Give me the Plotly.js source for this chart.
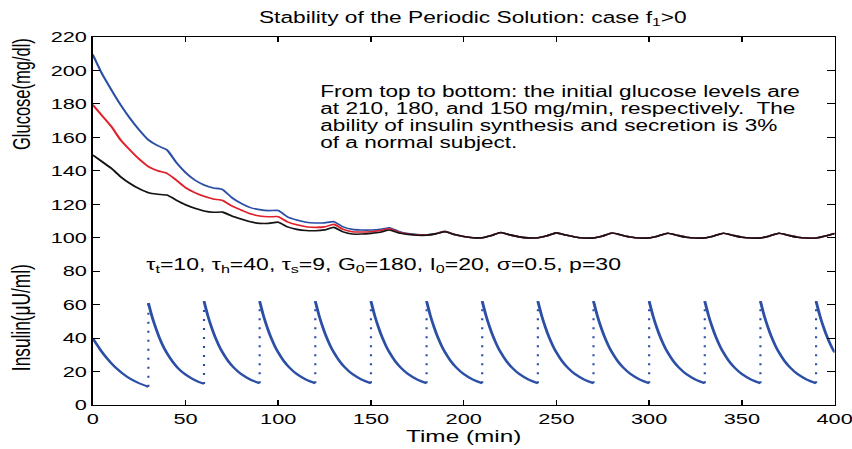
<!DOCTYPE html>
<html><head><meta charset="utf-8">
<script src="https://cdn.plot.ly/plotly-3.0.1.min.js"></script>
<style>
html,body{margin:0;padding:0;background:#fff;overflow:hidden;width:852px;height:449px}
#wrap{width:852px;height:449px;overflow:hidden}
#chart{width:588px;height:449px;transform:scaleX(1.44898);transform-origin:0 0}
</style></head><body><div id="wrap"><div id="chart"></div></div>
<script>
// ---- data ----
const timeGlucose = [0,5,10,15,20,25,30,35,40,45,50,55,60,65,70,75,80,85,90,95,100,105,110,115,120,125,130,135,140,145,150,155,160,165,170,175,180,185,190,195,200,205,210,215,220,225,230,235,240,245,250,255,260,265,270,275,280,285,290,295,300,305,310,315,320,325,330,335,340,345,350,355,360,365,370,375,380,385,390,395,400];
const glucose210 = [209.5,198,188.5,179.5,171.5,164.5,158.5,155,152.5,145,139,134.5,131.5,129.8,128.8,124,120.5,118,116.8,116.2,116.3,112.5,110.6,109.3,108.8,108.9,109.6,106.5,105,104.6,104.6,105,106,103.8,102.5,101.9,101.8,102.5,103.8,101.9,100.7,100,100,101.3,103.1,101.7,100.5,99.9,100,101.2,102.9,101.6,100.4,99.8,99.9,101.1,102.8,101.6,100.4,99.8,99.9,101.1,102.7,101.5,100.3,99.8,99.9,101.1,102.7,101.5,100.3,99.8,99.9,101.1,102.7,101.5,100.3,99.8,99.8,101,102.6];
const glucose180 = [179.5,173,166.5,158.5,152.5,147,142.5,140,138.5,134.5,130,127,124.8,123.2,122.3,119,116.6,114.3,113,112.5,112.6,109.5,107.7,106.6,106.2,106.5,108,105,103.6,103.4,103.6,104.3,105.4,103.3,102.2,101.7,101.6,102.4,103.7,101.9,100.7,100,100,101.3,103.1,101.7,100.5,99.9,100,101.2,102.9,101.6,100.4,99.8,99.9,101.1,102.8,101.6,100.4,99.8,99.9,101.1,102.7,101.5,100.3,99.8,99.9,101.1,102.7,101.5,100.3,99.8,99.9,101.1,102.7,101.5,100.3,99.8,99.8,101,102.6];
const glucose150 = [149.5,145.5,141.5,136.5,132.5,129.3,126.9,126,125.5,122.5,119.7,117.6,116,115.2,115.3,113,111.2,109.5,108.6,108.6,109.3,106.5,105,104.3,104.2,104.7,106.2,103.5,102.2,102.2,102.6,103.3,104.6,102.8,102,101.5,101.5,102.3,103.6,101.9,100.7,100,100,101.3,103.1,101.7,100.5,99.9,100,101.2,102.9,101.6,100.4,99.8,99.9,101.1,102.8,101.6,100.4,99.8,99.9,101.1,102.7,101.5,100.3,99.8,99.9,101.1,102.7,101.5,100.3,99.8,99.9,101.1,102.7,101.5,100.3,99.8,99.8,101,102.6];

// insulin: a repeated time marks a jump at a secretion pulse
const insulinTime = [
0,2,4,6,8,10,13,16,20,25,30,
30,32,34,36,38,40,43,46,50,55,60,
60,62,64,66,68,70,73,76,80,85,90,
90,92,94,96,98,100,103,106,110,115,120,
120,122,124,126,128,130,133,136,140,145,150,
150,152,154,156,158,160,163,166,170,175,180,
180,182,184,186,188,190,193,196,200,205,210,
210,212,214,216,218,220,223,226,230,235,240,
240,242,244,246,248,250,253,256,260,265,270,
270,272,274,276,278,280,283,286,290,295,300,
300,302,304,306,308,310,313,316,320,325,330,
330,332,334,336,338,340,343,346,350,355,360,
360,362,364,366,368,370,373,376,380,385,390,
390,392,394,396,398,400];
const insulinLevel = [
40,36.5,33.2,30.2,27.5,25,21.7,18.9,15.8,13,10.9,
61,52.8,46,40,35,31,26,22,18.2,14.9,12.6,
62,53.6,46.6,40.6,35.6,31.4,26.3,22.4,18.5,15.2,13,
62,53.6,46.6,40.6,35.6,31.4,26.3,22.4,18.5,15.2,13,
62,53.6,46.6,40.6,35.6,31.4,26.3,22.4,18.5,15.2,13,
62,53.6,46.6,40.6,35.6,31.4,26.3,22.4,18.5,15.2,13,
62,53.6,46.6,40.6,35.6,31.4,26.3,22.4,18.5,15.2,13,
62,53.6,46.6,40.6,35.6,31.4,26.3,22.4,18.5,15.2,13,
62,53.6,46.6,40.6,35.6,31.4,26.3,22.4,18.5,15.2,13,
62,53.6,46.6,40.6,35.6,31.4,26.3,22.4,18.5,15.2,13,
62,53.6,46.6,40.6,35.6,31.4,26.3,22.4,18.5,15.2,13,
62,53.6,46.6,40.6,35.6,31.4,26.3,22.4,18.5,15.2,13,
62,53.6,46.6,40.6,35.6,31.4,26.3,22.4,18.5,15.2,13,
62,53.6,46.6,40.6,35.6,31.4];

const xTicks = [0,50,100,150,200,250,300,350,400];
const yTicks = [0,20,40,60,80,100,120,140,160,180,200,220];

const titleText = 'Stability of the Periodic Solution: case f<sub>1</sub>&gt;0';
const noteLines = [
 'From top to bottom: the initial glucose levels are',
 'at 210, 180, and 150 mg/min, respectively.  The',
 'ability of insulin synthesis and secretion is 3%',
 'of a normal subject.'];
const paramText = '\u03C4<sub>t</sub>=10, \u03C4<sub>h</sub>=40, \u03C4<sub>s</sub>=9, G<sub>0</sub>=180, I<sub>0</sub>=20, \u03C3=0.5, p=30';

// ---- build insulin segments ----
const solidX=[], solidY=[], jumpX=[], jumpY=[];
for (let i=0;i<insulinTime.length;i++){
  if (i>0 && insulinTime[i]===insulinTime[i-1]){
    solidX.push(null); solidY.push(null);
    jumpX.push(insulinTime[i-1], insulinTime[i], null);
    jumpY.push(insulinLevel[i-1], insulinLevel[i], null);
  }
  solidX.push(insulinTime[i]); solidY.push(insulinLevel[i]);
}

const BLUE='#2c4fa6', RED='#e0212b', BLACK='#141414';
const FONT='Liberation Sans, Arial, sans-serif';

const traces = [
 {x:timeGlucose, y:glucose210, mode:'lines', line:{color:BLUE,width:1.6,shape:'spline',smoothing:0.5}, hoverinfo:'skip'},
 {x:timeGlucose, y:glucose180, mode:'lines', line:{color:RED,width:1.6,shape:'spline',smoothing:0.5}, hoverinfo:'skip'},
 {x:timeGlucose, y:glucose150, mode:'lines', line:{color:BLACK,width:1.6,shape:'spline',smoothing:0.5}, hoverinfo:'skip'},
 {x:jumpX, y:jumpY, mode:'lines', line:{color:BLUE,width:1.5,dash:'2px,7px'}, hoverinfo:'skip'},
 {x:solidX, y:solidY, mode:'lines', connectgaps:false, line:{color:BLUE,width:2,shape:'spline',smoothing:0.6}, hoverinfo:'skip'}
];

const annotations = noteLines.map((t,i)=>({
  x:121.3, y:[187.4,177.3,167.2,157.1][i], xref:'x', yref:'y', text:t, showarrow:false,
  xanchor:'left', yanchor:'middle', font:{family:FONT,size:15.6,color:'#000'}
}));
annotations.push({x:27.2, y:83.5, xref:'x', yref:'y', text:paramText, showarrow:false,
  xanchor:'left', yanchor:'middle', font:{family:FONT,size:15.9,color:'#000'}});
annotations.push({x:-0.0957, y:0.845, xref:'paper', yref:'paper', text:'Glucose(mg/dl)', textangle:-90,
  showarrow:false, xanchor:'center', yanchor:'middle', font:{family:FONT,size:16.5,color:'#000'}});
annotations.push({x:-0.0957, y:0.236, xref:'paper', yref:'paper', text:'Insulin(\u03BCU/ml)', textangle:-90,
  showarrow:false, xanchor:'center', yanchor:'middle', font:{family:FONT,size:17.3,color:'#000'}});

const layout = {
  width:588, height:449,
  margin:{l:64.18, r:11.73, t:37, b:44},
  paper_bgcolor:'#fff', plot_bgcolor:'#fff',
  showlegend:false,
  title:{text:titleText, x:0.555, xref:'container', y:0.962, yref:'container', xanchor:'center', yanchor:'middle',
         font:{family:FONT,size:15.7,color:'#000'}},
  xaxis:{range:[0,400], tickvals:xTicks, ticktext:xTicks.map(String), showgrid:false, zeroline:false,
         showline:true, linecolor:'#000', linewidth:1, mirror:'ticks', ticks:'inside', ticklen:5, tickcolor:'#000',
         ticklabeloverflow:'allow',
         tickfont:{family:FONT,size:15,color:'#000'},
         title:{text:'Time (min)', font:{family:FONT,size:16.8,color:'#000'}, standoff:0}},
  yaxis:{range:[0,220], tickvals:yTicks, ticktext:yTicks.map(String), showgrid:false, zeroline:false,
         showline:true, linecolor:'#000', linewidth:1, mirror:'ticks', ticks:'inside', ticklen:5, tickcolor:'#000',
         ticklabeloverflow:'allow',
         tickfont:{family:FONT,size:15,color:'#000'}},
  annotations:annotations
};
Plotly.newPlot('chart', traces, layout, {staticPlot:true, displayModeBar:false});
</script></body></html>
